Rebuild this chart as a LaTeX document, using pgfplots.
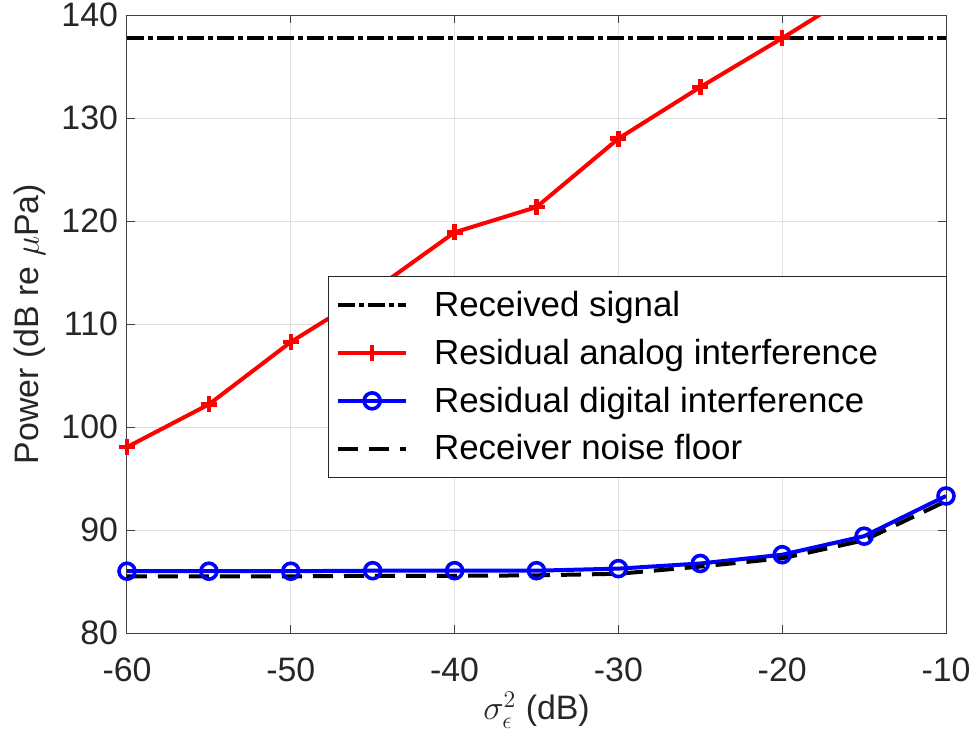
\documentclass[border=0pt]{standalone}
\usepackage{fontspec}
\setmainfont{Liberation Sans}
\usepackage{pgfplots}
\pgfplotsset{compat=1.18}
\begin{document}
\begin{tikzpicture}
\begin{axis}[
  scale only axis,
  width=409.5bp, height=309bp,
  xmin=-60, xmax=-10, ymin=80, ymax=140,
  xtick={-60,-50,...,-10}, ytick={80,90,...,140},
  /pgf/number format/assume math mode=true,
  tick label style={font=\fontsize{17}{19}\selectfont, text=black!85},
  label style={font=\fontsize{17}{19}\selectfont, text=black!85},
  xlabel={$\sigma_{\epsilon}^{2}$ (dB)},
  ylabel={Power (dB re $\mu$Pa)},
  xlabel style={yshift=2bp},
  ylabel style={yshift=1bp},
  grid=major,
  major grid style={draw=black!12, line width=0.5bp},
  tick align=inside,
  major tick length=4bp,
  axis line style={draw=black!75, line width=0.5bp},
  every tick/.style={draw=black!75, line width=0.5bp},
  xticklabel style={yshift=-9bp},
  yticklabel style={xshift=-1bp},
  clip=true,
  legend style={
    at={(rel axis cs:0.245,0.578)}, anchor=north west,
    font=\fontsize{17.5}{19}\selectfont,
    draw=black!85, line width=0.5bp,
    inner xsep=4bp, inner ysep=5.5bp,
    row sep=5.75bp,
    cells={anchor=west},
  },
  legend image code/.code={
    \draw[#1, mark repeat=2, mark phase=2] plot coordinates {(0bp,0bp) (17bp,0bp) (34bp,0bp)};
    \path (45bp,0bp);
  },
]
\addplot[black, line width=2bp, dash pattern=on 8.5bp off 2bp on 2.5bp off 2bp] coordinates {
(-60,137.8) (-10,137.8)};
\addlegendentry{Received signal}
\addplot[red, line width=2bp, mark=+, mark size=4bp, mark options={line width=2.2bp, solid}] coordinates {
(-60,98.05) (-55,102.2) (-50,108.25) (-45,113.2) (-40,118.9) (-35,121.35) (-30,128.0) (-25,133.0) (-20,137.75) (-15,142.7) (-10,147.5)};
\addlegendentry{Residual analog interference\hspace*{28bp}}
\addplot[blue, line width=2bp, mark=o, mark size=4bp, mark options={line width=1.8bp, solid}] coordinates {
(-60,86.0) (-55,86.0) (-50,86.0) (-45,86.05) (-40,86.05) (-35,86.05) (-30,86.25) (-25,86.75) (-20,87.6) (-15,89.4) (-10,93.3)};
\addlegendentry{Residual digital interference}
\addplot[black, line width=2bp, dash pattern=on 10bp off 5.5bp] coordinates {
(-60,85.5) (-55,85.5) (-50,85.5) (-45,85.55) (-40,85.55) (-35,85.6) (-30,85.75) (-25,86.45) (-20,87.25) (-15,89.0) (-10,92.8)};
\addlegendentry{Receiver noise floor}
\end{axis}
\pgfresetboundingbox
\path (-63.5bp,-51.5bp) rectangle (424bp,316.5bp);
\end{tikzpicture}
\end{document}
